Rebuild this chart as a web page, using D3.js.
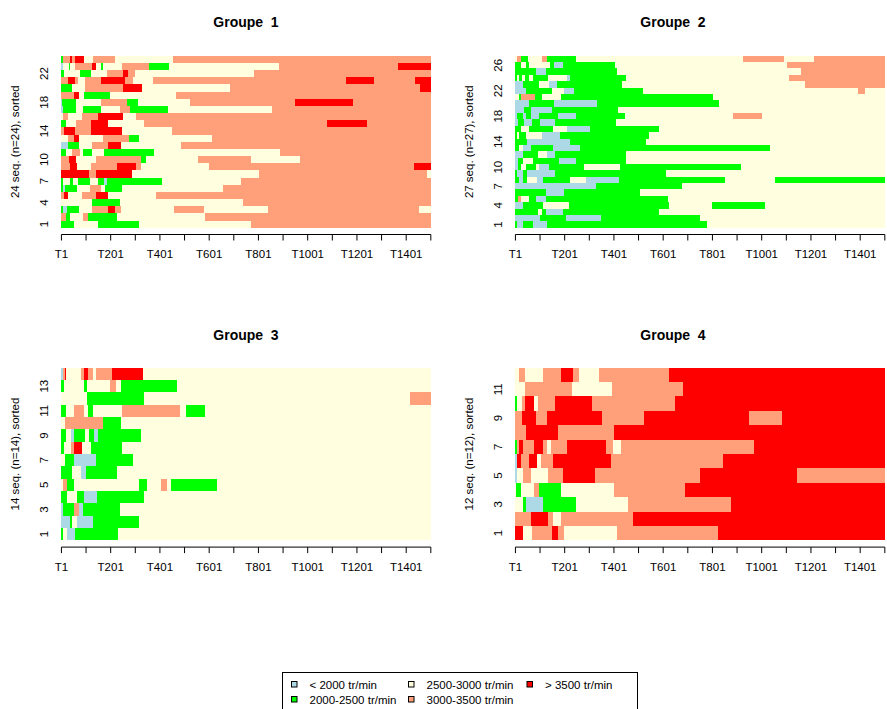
<!DOCTYPE html>
<html>
<head>
<meta charset="utf-8">
<script src="https://cdn.jsdelivr.net/npm/d3@7"></script>
<style>
  html, body { margin: 0; padding: 0; background: #fff; }
  svg { display: block; font-family: "Liberation Sans", Arial, sans-serif; }
</style>
</head>
<body>
<svg id="chart" width="887" height="709"></svg>
<script>
// State alphabet (engine speed classes) and colours
const stateCodes  = ["B", "G", "Y", "S", "R"];
const stateLabels = ["< 2000 tr/min", "2000-2500 tr/min", "2500-3000 tr/min", "3000-3500 tr/min", "> 3500 tr/min"];
const stateColors = ["#ADD8E6", "#00FF00", "#FFFFE0", "#FFA07A", "#FF0000"];

const seqLength = 1500;
// tick marks every 100 positions, labels on every other tick
const timeTickPositions = [1, 101, 201, 301, 401, 501, 601, 701, 801, 901, 1001, 1101, 1201, 1301, 1401, 1501];
const timeTickLabels = ["T1", "T201", "T401", "T601", "T801", "T1001", "T1201", "T1401"];

// Sequences written as spells "<state><last position>", row 1 first (sorted)
const group1 = [
  "G51 Y150 G317 Y771 S1500",
  "S20 G37 Y87 S108 G227 Y583 S1500",
  "G7 B22 G70 Y123 S189 R217 S242 Y459 S578 Y838 S1452 Y1500",
  "Y124 G238 Y738 S1500",
  "S10 R27 Y84 S141 R189 Y383 S1500",
  "G5 B16 G65 Y117 S160 Y177 G246 Y655 S1500",
  "G5 Y36 G47 Y68 G115 Y150 G173 B187 G410 Y731 S1500",
  "R113 S141 R286 Y802 S1486 Y1500",
  "S34 R63 Y119 S226 R304 S325 Y599 S1431 R1500",
  "S31 R61 Y142 S322 G342 Y555 S771 Y970 S1500",
  "G20 Y43 S74 Y88 G124 Y173 G375 Y889 S1500",
  "B27 G70 Y124 S190 R242 Y486 S1500",
  "Y27 S52 R70 Y168 S274 G317 Y613 S1500",
  "S10 R57 S120 R246 Y451 S1500",
  "G20 Y59 S120 R190 Y336 S1077 R1242 S1500",
  "Y8 S27 Y84 S149 R250 Y304 S1500",
  "B8 G60 Y88 G163 Y239 S280 G432 Y855 S1500",
  "B4 G61 Y160 S268 G313 Y524 S949 R1185 S1500",
  "S53 R70 Y92 G198 Y467 S1500",
  "G43 Y97 S250 R326 Y687 S1456 R1500",
  "S26 R54 S69 Y96 S160 R258 S290 Y371 S1158 R1269 S1438 R1500",
  "G5 Y8 G12 Y74 G119 Y185 S251 R272 S299 Y783 S1500",
  "B7 Y13 G16 Y30 G35 Y54 S123 R139 Y160 G171 Y246 S357 G437 Y885 S1368 R1500",
  "G5 S34 R43 S57 R92 Y128 S217 Y452 S1500"
];
const group2 = [
  "G5 B32 G70 B127 G777 Y1500",
  "B100 G206 B346 G752 Y1500",
  "G91 Y107 G123 B192 G582 Y1500",
  "B30 G111 Y219 G625 Y798 G1013 Y1500",
  "G11 S22 Y57 G84 B124 G621 Y1500",
  "G124 B198 G507 Y1500",
  "B327 G675 Y1500",
  "G16 B32 G49 Y87 B114 G222 Y289 B422 G851 Y1054 G1500",
  "G8 B30 G46 B161 G612 Y1500",
  "B12 G23 Y43 G84 Y97 B138 G279 Y425 G915 Y1500",
  "B11 G32 Y73 G179 B246 G449 Y1500",
  "B32 G93 Y127 B161 G449 Y1500",
  "G16 Y32 B62 G154 B262 G1036 Y1500",
  "G46 B222 G529 Y1500",
  "G5 Y16 G42 Y110 B181 G541 Y1500",
  "G22 Y57 G152 Y208 B303 G582 Y1500",
  "B12 G34 B68 G100 B161 G409 Y1500",
  "B8 G30 B43 G62 B97 G174 B246 G445 Y882 S1001 Y1500",
  "B37 G62 B150 G418 Y1500",
  "B57 G158 B330 G828 Y1500",
  "Y14 G24 S78 G110 Y184 G801 Y1500",
  "B43 G150 Y198 B238 G520 Y1392 S1419 Y1500",
  "B32 G97 Y138 B168 G432 Y1178 S1500",
  "G5 Y14 G27 Y38 G55 Y70 G134 Y208 B222 G449 Y1111 S1500",
  "G84 B125 G413 Y1162 S1500",
  "G24 Y43 G57 Y141 G158 B192 G405 Y1102 S1500",
  "Y8 S22 G51 Y107 S128 G246 Y925 S1093 Y1212 S1500"
];
const group3 = [
  "G8 Y22 B57 G229 Y1500",
  "B35 G43 Y62 B127 G317 Y1500",
  "B8 G51 S72 B87 G238 Y1500",
  "G22 Y62 G92 B146 G336 Y1500",
  "Y8 S22 G51 Y314 G348 Y406 S429 Y445 G631 Y1500",
  "G43 Y78 B100 G225 Y1500",
  "Y14 G53 B141 G291 Y1500",
  "G11 Y39 S53 R84 Y119 G246 Y1500",
  "G18 Y39 B53 G96 Y114 G133 B150 G322 Y1500",
  "Y14 S168 G242 Y1500",
  "G18 Y53 S92 Y110 G127 Y246 S484 Y507 G582 Y1500",
  "Y106 G336 Y1416 S1500",
  "G11 Y92 G103 Y198 S221 Y242 G471 Y1500",
  "B7 S14 R19 Y81 S92 R110 S127 Y141 S207 R330 Y1500"
];
const group4 = [
  "R30 Y66 S150 R172 S198 Y414 S824 R1500",
  "S62 R133 S154 Y184 S476 R1500",
  "Y32 G42 B114 G246 Y459 S877 R1500",
  "Y3 G22 Y76 S97 G184 Y400 S689 R1500",
  "B5 Y30 S62 Y134 S195 R322 S750 R1142 S1500",
  "B8 R22 S54 R89 Y106 S152 R387 S842 R1500",
  "G5 S14 R32 S76 R111 S130 Y146 S211 R369 S398 Y428 S970 R1500",
  "S45 R172 S400 R1500",
  "S27 R84 S130 R352 S521 R948 S1085 R1500",
  "G5 Y27 S38 R74 Y92 S163 R311 S648 R1500",
  "Y38 S229 Y392 S679 R1500",
  "Y14 S38 Y114 S186 R233 S257 Y340 S625 R1500"
];

const groupTitles = ["Groupe  1", "Groupe  2", "Groupe  3", "Groupe  4"];
const groupRowTicks = [
  [1, 4, 7, 10, 14, 18, 22],
  [1, 4, 7, 10, 14, 18, 22, 26],
  [1, 3, 5, 7, 9, 11, 13],
  [1, 3, 5, 7, 9, 11]
];
const groups = [group1, group2, group3, group4];

// Panel frames (plot regions)
const panels = [
  { left: 61.3,  right: 430.7, top: 55.7,  bottom: 227.7, titleX: 246, titleY: 22 },
  { left: 515.3, right: 884.7, top: 55.7,  bottom: 227.7, titleX: 673, titleY: 22 },
  { left: 61.3,  right: 430.7, top: 367.7, bottom: 540.3, titleX: 246, titleY: 335 },
  { left: 515.3, right: 884.7, top: 367.7, bottom: 540.3, titleX: 673, titleY: 335 }
];

const color = d3.scaleOrdinal().domain(stateCodes).range(stateColors);
const svg = d3.select("#chart");

function parseSpells(str) {
  let start = 0;
  return str.trim().split(/\s+/).map(tok => {
    const st = tok[0];
    const end = +tok.slice(1);
    const spell = { state: st, start: start, end: end };
    start = end;
    return spell;
  });
}

groups.forEach((seqs, gi) => {
  const p = panels[gi];
  const n = seqs.length;
  const x = d3.scaleLinear().domain([0, seqLength]).range([p.left, p.right]);
  const y = d3.scaleBand().domain(d3.range(1, n + 1)).range([p.bottom, p.top]).paddingInner(0).paddingOuter(0);

  const g = svg.append("g");

  // sequence index plot: one row per sequence, one rect per spell
  const rows = g.selectAll("g.seq")
    .data(seqs.map((s, i) => ({ row: i + 1, spells: parseSpells(s) })))
    .join("g").attr("class", "seq");

  rows.selectAll("rect")
    .data(d => d.spells.map(sp => Object.assign({ row: d.row }, sp)))
    .join("rect")
    .attr("x", d => x(d.start))
    .attr("width", d => x(d.end) - x(d.start))
    .attr("y", d => y(d.row))
    .attr("height", y.bandwidth())
    .attr("fill", d => color(d.state))
    .attr("shape-rendering", "crispEdges");

  // time axis
  const axisY = p.bottom + 6.8;
  const tx = pos => x(pos - 0.5);
  const ax = g.append("g");
  ax.append("line")
    .attr("x1", tx(timeTickPositions[0])).attr("x2", tx(timeTickPositions[timeTickPositions.length - 1]))
    .attr("y1", axisY).attr("y2", axisY)
    .attr("stroke", "#000").attr("stroke-width", 1);
  ax.selectAll("line.tick").data(timeTickPositions).join("line")
    .attr("class", "tick")
    .attr("x1", d => tx(d)).attr("x2", d => tx(d))
    .attr("y1", axisY).attr("y2", axisY + 6)
    .attr("stroke", "#000").attr("stroke-width", 1);
  ax.selectAll("text").data(timeTickLabels).join("text")
    .attr("x", d => tx(+d.slice(1)))
    .attr("y", axisY + 23.5)
    .attr("text-anchor", "middle")
    .attr("font-size", 11.5)
    .attr("fill", "#000")
    .text(d => d);

  // row labels
  groupRowTicks[gi].forEach(r => {
    const cy = y(r) + y.bandwidth() / 2;
    g.append("text")
      .attr("transform", `translate(${p.left - 13},${cy}) rotate(-90)`)
      .attr("text-anchor", "middle")
      .attr("font-size", 11.5)
      .text(r);
  });

  // y title
  g.append("text")
    .attr("transform", `translate(${p.left - 42},${(p.top + p.bottom) / 2}) rotate(-90)`)
    .attr("text-anchor", "middle")
    .attr("font-size", 11.5)
    .text(`${n} seq. (n=${n}), sorted`);

  // panel title
  g.append("text")
    .attr("x", p.titleX).attr("y", p.titleY + 5)
    .attr("text-anchor", "middle")
    .attr("font-size", 14)
    .attr("font-weight", "bold")
    .style("white-space", "pre")
    .text(groupTitles[gi]);
});

// legend
const leg = svg.append("g");
leg.append("rect")
  .attr("x", 282.5).attr("y", 672.5).attr("width", 355).attr("height", 45)
  .attr("fill", "none").attr("stroke", "#000").attr("stroke-width", 1);

const legendCols = [291.5, 408.5, 527];
const legendRows = [684.5, 699.5];
stateLabels.forEach((lab, i) => {
  // filled column by column, two rows
  const c = Math.floor(i / 2), r = i % 2;
  const sx = legendCols[c], sy = legendRows[r];
  leg.append("rect")
    .attr("x", sx).attr("y", sy - 3).attr("width", 5.5).attr("height", 5.5)
    .attr("fill", stateColors[i]).attr("stroke", "#000").attr("stroke-width", 1);
  leg.append("text")
    .attr("x", sx + 18).attr("y", sy + 4)
    .attr("font-size", 11.5)
    .text(lab);
});
</script>
</body>
</html>
